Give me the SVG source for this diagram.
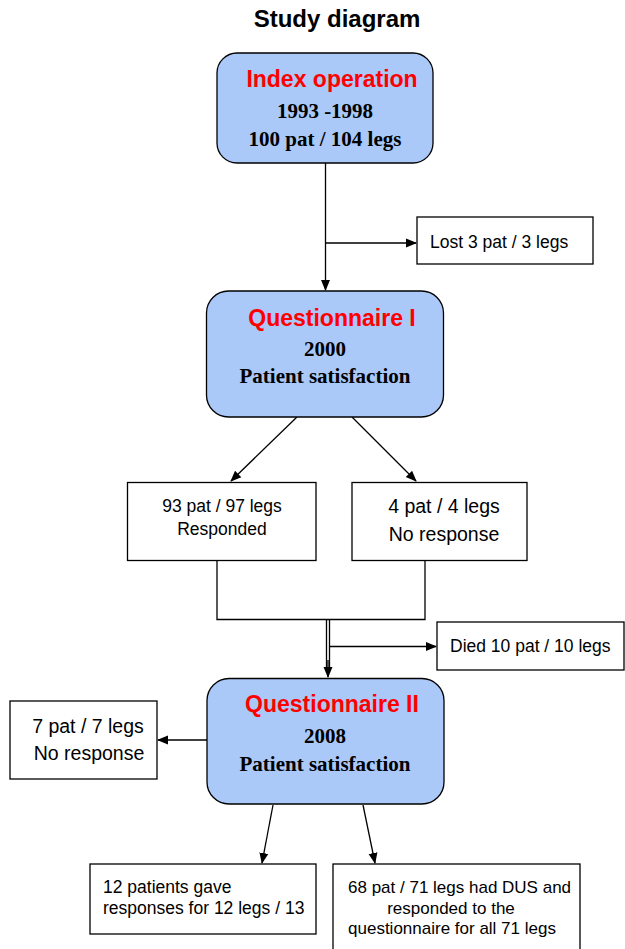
<svg xmlns="http://www.w3.org/2000/svg" width="625" height="949" viewBox="0 0 625 949">
<defs>
<marker id="ah" markerWidth="11" markerHeight="11" refX="10" refY="5.5" orient="auto" markerUnits="userSpaceOnUse">
<path d="M0,1 L11,5.5 L0,10 Z" fill="#000"/>
</marker>
<style>
.rbox{fill:#aac8f8;stroke:#000;stroke-width:1.3}
.box{fill:#fff;stroke:#000;stroke-width:1.3}
.hd{font-family:"Liberation Sans",Arial,sans-serif;font-weight:bold;font-size:23px;fill:#ff0000}
.tb{font-family:"Liberation Serif","Times New Roman",serif;font-weight:bold;font-size:21px;fill:#000;text-anchor:middle}
.t{font-family:"Liberation Sans",Arial,sans-serif;font-size:17.5px;fill:#000}
.ts{font-family:"Liberation Sans",Arial,sans-serif;font-size:17px;fill:#000}
.tl{font-family:"Liberation Sans",Arial,sans-serif;font-size:19.5px;fill:#000;text-anchor:middle}
.c{stroke:#000;stroke-width:1.3;fill:none}
</style>
</defs>
<rect width="625" height="949" fill="#fff"/>
<text x="337" y="27" font-family="'Liberation Sans',Arial,sans-serif" font-weight="bold" font-size="24" text-anchor="middle">Study diagram</text>

<g id="connectors">
<line class="c" x1="325.5" y1="163" x2="325.5" y2="290" marker-end="url(#ah)"/>
<line class="c" x1="325.5" y1="243" x2="416" y2="243" marker-end="url(#ah)"/>
<line class="c" x1="297" y1="417" x2="231" y2="481" marker-end="url(#ah)"/>
<line class="c" x1="352" y1="417" x2="416" y2="481" marker-end="url(#ah)"/>
<polyline class="c" points="217,561 217,619.5 425,619.5 425,561"/>
<line class="c" x1="326.5" y1="619.5" x2="326.5" y2="670"/>
<line class="c" x1="329.5" y1="619.5" x2="329.5" y2="670"/>
<line class="c" x1="328" y1="660" x2="328" y2="677" marker-end="url(#ah)"/>
<line class="c" x1="329.5" y1="646.5" x2="436" y2="646.5" marker-end="url(#ah)"/>
<line class="c" x1="207" y1="740" x2="158" y2="740" marker-end="url(#ah)"/>
<line class="c" x1="273" y1="805" x2="262" y2="863" marker-end="url(#ah)"/>
<line class="c" x1="363" y1="805" x2="375" y2="863" marker-end="url(#ah)"/>
</g>

<g id="index-operation">
<rect class="rbox" x="217" y="53" width="216" height="110" rx="20"/>
<text class="hd" x="332" y="87" text-anchor="middle">Index operation</text>
<text class="tb" x="325" y="118">1993 -1998</text>
<text class="tb" x="325" y="146">100 pat / 104 legs</text>
</g>

<g id="lost">
<rect class="box" x="417" y="217" width="176" height="47"/>
<text class="t" x="430" y="248">Lost 3 pat / 3 legs</text>
</g>

<g id="questionnaire-1">
<rect class="rbox" x="206.5" y="291" width="237" height="126" rx="22"/>
<text class="hd" x="332" y="326" text-anchor="middle">Questionnaire I</text>
<text class="tb" x="325" y="356">2000</text>
<text class="tb" x="325" y="383">Patient satisfaction</text>
</g>

<g id="responded">
<rect class="box" x="127.5" y="482.5" width="188.5" height="78"/>
<text class="t" x="222" y="512" text-anchor="middle">93 pat / 97 legs</text>
<text class="t" x="222" y="535" text-anchor="middle">Responded</text>
</g>

<g id="no-response-1">
<rect class="box" x="352" y="482.5" width="175" height="78"/>
<text class="tl" x="444" y="513">4 pat / 4 legs</text>
<text class="tl" x="444" y="541">No response</text>
</g>

<g id="died">
<rect class="box" x="437" y="622" width="187" height="48"/>
<text class="t" x="450" y="652">Died 10 pat / 10 legs</text>
</g>

<g id="questionnaire-2">
<rect class="rbox" x="207" y="678.5" width="237" height="125.5" rx="22"/>
<text class="hd" x="332" y="712" text-anchor="middle">Questionnaire II</text>
<text class="tb" x="325" y="743">2008</text>
<text class="tb" x="325" y="771">Patient satisfaction</text>
</g>

<g id="no-response-2">
<rect class="box" x="10" y="701" width="147" height="78"/>
<text class="tl" x="88" y="733">7 pat / 7 legs</text>
<text class="tl" x="89" y="760">No response</text>
</g>

<g id="partial">
<rect class="box" x="90" y="864" width="226" height="70"/>
<text class="t" x="103" y="893">12 patients gave</text>
<text class="t" x="103" y="914">responses for 12 legs / 13</text>
</g>

<g id="full">
<rect class="box" x="333" y="864" width="247" height="90"/>
<text class="ts" x="348" y="893">68 pat / 71 legs had DUS and</text>
<text class="ts" x="451" y="914" text-anchor="middle">responded to the</text>
<text class="ts" x="452" y="934" text-anchor="middle">questionnaire for all 71 legs</text>
</g>
</svg>
